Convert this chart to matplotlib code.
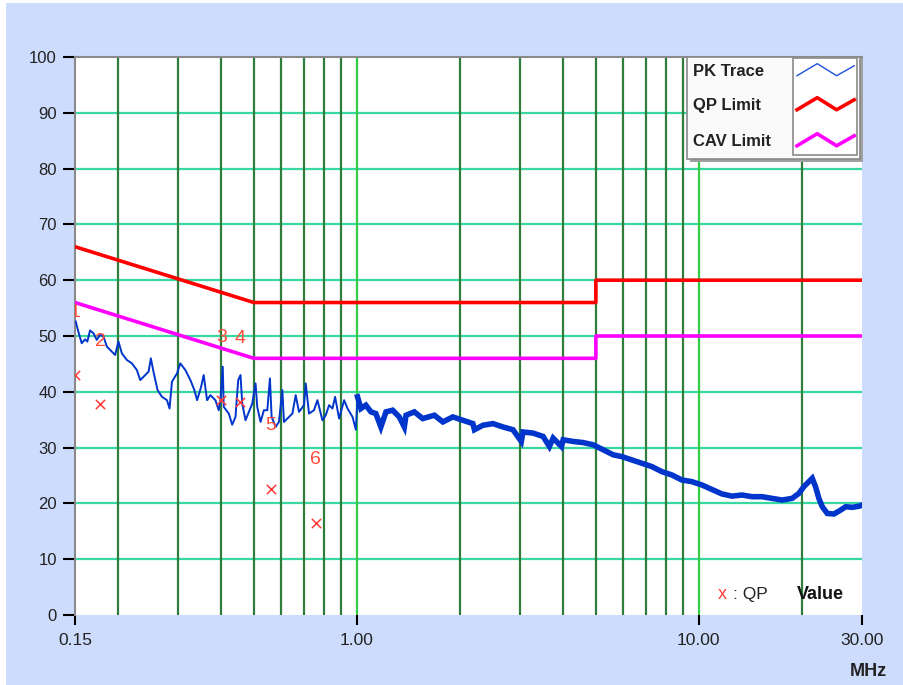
import matplotlib
matplotlib.use("Agg")
import matplotlib.pyplot as plt
from matplotlib.patches import Rectangle

plt.rcParams['font.family'] = ['Liberation Sans', 'DejaVu Sans']

# peak trace (MHz, dBuV)
pk_freq = [0.1507, 0.1534, 0.1569, 0.1605, 0.1630, 0.1660, 0.1698, 0.1737, 0.1776, 0.1817,
           0.1859, 0.1922, 0.1965, 0.2010, 0.2056, 0.2127, 0.2200, 0.2275, 0.2327, 0.2407,
           0.2461, 0.2500, 0.2544, 0.2615, 0.2694, 0.2786, 0.2835, 0.2881, 0.2981, 0.3048,
           0.3153, 0.3262, 0.3351, 0.3413, 0.3506, 0.3567, 0.3650, 0.3732, 0.3860, 0.3948,
           0.3993, 0.4056, 0.4083, 0.4224, 0.4322, 0.4419, 0.4500, 0.4571, 0.4624, 0.4728,
           0.4835, 0.4947, 0.5058, 0.5116, 0.5232, 0.5350, 0.5475, 0.5572, 0.5636, 0.5790,
           0.5920, 0.6058, 0.6124, 0.6267, 0.6482, 0.6628, 0.6776, 0.7009, 0.7090, 0.7250,
           0.7497, 0.7671, 0.7935, 0.8114, 0.8297, 0.8490, 0.8640, 0.8877, 0.9182, 0.9396,
           0.9717, 0.9936, 1.005, 1.028, 1.063, 1.100, 1.137, 1.176, 1.217, 1.273,
           1.331, 1.377, 1.393, 1.473, 1.559, 1.686, 1.785, 1.909, 2.042, 2.185,
           2.208, 2.337, 2.500, 2.675, 2.862, 3.027, 3.062, 3.276, 3.505, 3.657,
           3.750, 3.966, 4.012, 4.293, 4.592, 4.913, 5.256, 5.624, 5.949, 6.365,
           6.810, 7.286, 7.793, 8.337, 8.919, 9.542, 10.21, 10.92, 11.68, 12.50,
           13.37, 14.31, 15.31, 16.37, 17.52, 18.75, 19.62, 20.28, 20.98, 21.46,
           21.94, 22.44, 22.96, 23.75, 24.84, 25.98, 26.87, 28.11, 29.42, 30.0]
pk_level = [52.6, 50.8, 48.7, 49.4, 49.0, 51.0, 50.5, 49.3, 50.2, 49.9,
            48.1, 47.2, 46.6, 49.0, 46.9, 45.7, 45.1, 43.9, 42.1, 43.0,
            43.6, 46.0, 43.6, 40.3, 39.1, 38.5, 37.0, 41.8, 43.3, 45.1,
            43.9, 42.1, 40.3, 38.5, 40.9, 43.0, 38.5, 39.4, 38.5, 36.7,
            38.5, 44.5, 37.3, 36.1, 34.1, 35.5, 42.1, 43.0, 37.9, 34.9,
            36.4, 37.9, 41.5, 37.3, 34.6, 36.7, 36.7, 42.4, 35.5, 33.7,
            34.6, 40.3, 34.6, 35.2, 36.1, 39.4, 36.4, 37.6, 41.5, 36.1,
            36.7, 38.5, 34.9, 35.8, 37.6, 37.0, 39.1, 35.2, 38.5, 37.0,
            35.5, 33.2, 39.1, 37.0, 37.6, 36.4, 36.1, 33.7, 36.4, 36.7,
            35.5, 33.7, 35.8, 36.4, 35.2, 35.8, 34.6, 35.5, 34.9, 34.3,
            33.2, 34.0, 34.3, 33.7, 33.2, 31.1, 32.8, 32.6, 32.0, 30.2,
            31.7, 30.2, 31.4, 31.1, 30.9, 30.5, 29.6, 28.7, 28.4, 27.8,
            27.2, 26.6, 25.7, 25.1, 24.2, 23.9, 23.3, 22.5, 21.7, 21.3,
            21.5, 21.2, 21.2, 20.9, 20.6, 20.9, 21.8, 23.0, 23.9, 24.5,
            23.0, 20.9, 19.4, 18.2, 18.1, 18.8, 19.4, 19.3, 19.5, 19.7]

# limit lines
qp_lim_freq = [0.15, 0.5, 5.0, 5.0, 30.0]
qp_lim_level = [66, 56, 56, 60, 60]
cav_lim_freq = [0.15, 0.5, 5.0, 5.0, 30.0]
cav_lim_level = [56, 46, 46, 50, 50]

# quasi-peak readings
qp_freq = [0.150, 0.178, 0.402, 0.457, 0.560, 0.759]
qp_level = [43.0, 37.8, 38.5, 38.2, 22.6, 16.5]
qp_labels = ['1', '2', '3', '4', '5', '6']

x_ticks = [0.15, 1.0, 10.0, 30.0]
x_ticklabels = ['0.15', '1.00', '10.00', '30.00']
minor_grid = [0.2, 0.3, 0.4, 0.5, 0.6, 0.7, 0.8, 0.9, 2, 3, 4, 5, 6, 7, 8, 9, 20]
major_grid = [1.0, 10.0]

fig = plt.figure(figsize=(9.04, 6.85), dpi=100, facecolor='white')
fig.patches.append(Rectangle((6 / 904, 0), 1, 1 - 3 / 685, transform=fig.transFigure,
                             facecolor='#cddcfc', edgecolor='none', zorder=-10))

ax = fig.add_axes([75 / 904, 70 / 685, 787 / 904, 558 / 685])
ax.set_facecolor('white')
ax.set_xscale('log')
ax.set_xlim(0.15, 30)
ax.set_ylim(0, 100)

for y in range(10, 100, 10):
    ax.axhline(y, color='#38d8a0', lw=1.6, zorder=1)
for f in minor_grid:
    ax.axvline(f, color='#2e7d3a', lw=1.6, zorder=1)
for f in major_grid:
    ax.axvline(f, color='#33cc44', lw=1.6, zorder=1)

ax.plot(qp_lim_freq, qp_lim_level, color='#ff0000', lw=2.6, zorder=3)
ax.plot(cav_lim_freq, cav_lim_level, color='#ff00ff', lw=2.6, zorder=3)

ax.plot(pk_freq, pk_level, color='#0035cc', lw=1.4, zorder=4)
hi = [i for i, f in enumerate(pk_freq) if f >= 1.0]
ax.plot([pk_freq[i] for i in hi], [pk_level[i] for i in hi], color='#0035cc', lw=4.0,
        solid_joinstyle='miter', zorder=4)

ax.scatter(qp_freq, qp_level, marker='x', s=45, color='#ff3b3b', linewidths=1.1, zorder=5)
for f, v, t in zip(qp_freq, qp_level, qp_labels):
    ax.text(f, v + 11.3, t, color='#ff4a3a', fontsize=14, ha='center', va='center',
            zorder=6, clip_on=True)

ax.set_xticks(x_ticks)
ax.set_xticklabels(x_ticklabels)
ax.xaxis.set_minor_locator(matplotlib.ticker.NullLocator())
ax.set_yticks(range(0, 101, 10))
ax.tick_params(axis='y', length=9, width=1.5, pad=4, labelsize=12, labelcolor='#222222')
ax.tick_params(axis='x', length=7, width=1.5, pad=6, labelsize=12.5, labelcolor='#222222')

for s in ['right', 'bottom']:
    ax.spines[s].set_visible(False)
for s in ['left', 'top']:
    ax.spines[s].set_color('#8a8a8a')
    ax.spines[s].set_linewidth(1.5)

ax.text(0.822, 0.036, 'x', color='#ff3b3b', fontsize=13, ha='center', va='center',
        transform=ax.transAxes, zorder=6)
ax.text(0.836, 0.036, ': QP', color='#222222', fontsize=12.5, ha='left', va='center',
        transform=ax.transAxes, zorder=6)
ax.text(0.917, 0.036, 'Value', color='#111111', fontsize=13, fontweight='bold', ha='left',
        va='center', transform=ax.transAxes, zorder=6)

fig.text(868 / 904, 13 / 685, 'MHz', fontsize=13, fontweight='bold', color='#222222',
         ha='center', va='center')

# legend box
lg = fig.add_axes([687 / 904, (685 - 159) / 685, 176 / 904, 105 / 685])
lg.set_xlim(0, 1)
lg.set_ylim(0, 1)
lg.axis('off')
lg.add_patch(Rectangle((0.015, -0.025), 0.985, 0.985, facecolor='#a0a0a0', edgecolor='none',
                       clip_on=False))
lg.add_patch(Rectangle((0, 0), 0.985, 0.975, facecolor='#fafafa', edgecolor='#8a8a8a',
                       lw=1.2, clip_on=False))
lg.add_patch(Rectangle((0.602, 0.04), 0.365, 0.92, facecolor='white', edgecolor='#8a8a8a',
                       lw=1.2))
names = ['PK Trace', 'QP Limit', 'CAV Limit']
rows = [0.838, 0.514, 0.171]
colors = ['#2050dd', '#ff0000', '#ff00ff']
widths = [1.0, 2.6, 2.6]
for n, y, c, w in zip(names, rows, colors, widths):
    lg.text(0.035, y, n, fontsize=12, fontweight='bold', color='#222222', ha='left', va='center')
    lg.plot([0.625, 0.74, 0.85, 0.95], [y - 0.045, y + 0.07, y - 0.045, y + 0.05],
            color=c, lw=w)

fig.savefig('out.png', dpi=100, facecolor=fig.get_facecolor())
